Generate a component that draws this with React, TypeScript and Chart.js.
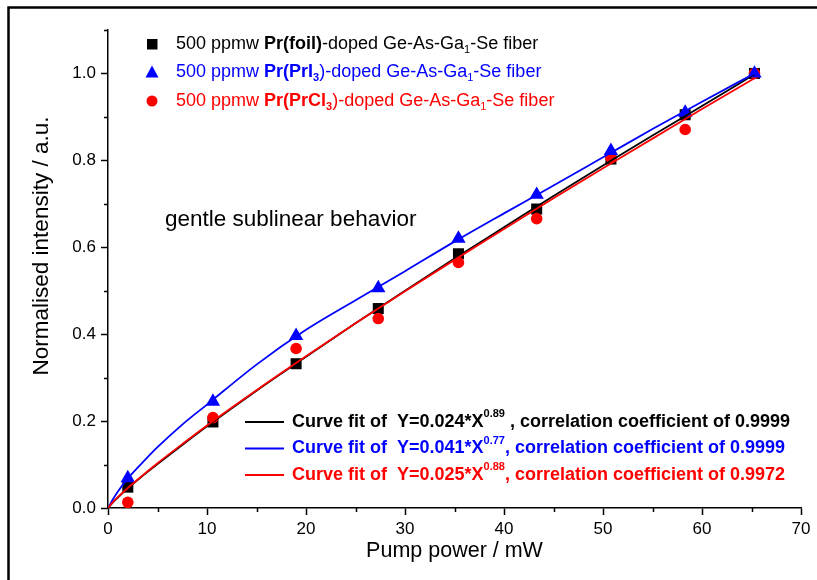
import React, { useEffect, useRef } from 'react';
import { Chart, registerables } from 'chart.js';
Chart.register(...registerables);

// Measured data (pump power in mW, normalised intensity)
const pumpPower = [2.0, 10.6, 19.0, 27.3, 35.4, 43.3, 50.8, 58.3, 65.3];
const foilIntensity = [0.048, 0.198, 0.332, 0.459, 0.585, 0.688, 0.803, 0.905, 1.0];
const priIntensity = [0.069, 0.245, 0.396, 0.506, 0.620, 0.721, 0.822, 0.910, 1.0];
const prclIntensity = [0.013, 0.208, 0.367, 0.436, 0.565, 0.666, 0.806, 0.871, 1.0];

// Fitted curves
const fitPower = [0, 0.5, 1, 2, 3.5, 5, 7.5, 10, 15, 20, 25, 30, 35, 40, 45, 50, 55, 60, 65.3];
const fitFoil = [0, 0.013, 0.024, 0.045, 0.074, 0.101, 0.145, 0.188, 0.27, 0.348, 0.425, 0.5, 0.574, 0.646, 0.718, 0.788, 0.857, 0.925, 0.998];
const fitPri = [0, 0.02, 0.038, 0.068, 0.105, 0.14, 0.192, 0.238, 0.33, 0.41, 0.478, 0.545, 0.613, 0.678, 0.742, 0.807, 0.872, 0.935, 1.0];
const fitPrcl = [0, 0.0136, 0.025, 0.046, 0.075, 0.103, 0.147, 0.19, 0.271, 0.349, 0.425, 0.499, 0.571, 0.642, 0.713, 0.782, 0.85, 0.918, 0.989];

const xTicks = [0, 10, 20, 30, 40, 50, 60, 70];
const yTicks = [0, 0.2, 0.4, 0.6, 0.8, 1.0];
const xMinorTicks = [5, 15, 25, 35, 45, 55, 65];
const yMinorTicks = [0.1, 0.3, 0.5, 0.7, 0.9, 1.1];

const xTitle = 'Pump power / mW';
const yTitle = 'Normalised intensity / a.u.';
const annotation = 'gentle sublinear behavior';

type Seg = { t: string; b?: boolean; sub?: boolean; sup?: boolean };

const sampleLegend: { color: string; style: string; segs: Seg[] }[] = [
  {
    color: '#000000', style: 'rect',
    segs: [{ t: '500 ppmw ' }, { t: 'Pr(foil)', b: true }, { t: '-doped Ge-As-Ga' }, { t: '1', sub: true }, { t: '-Se fiber' }],
  },
  {
    color: '#0000FF', style: 'triangle',
    segs: [{ t: '500 ppmw ' }, { t: 'Pr(PrI', b: true }, { t: '3', b: true, sub: true }, { t: ')-doped Ge-As-Ga' }, { t: '1', sub: true }, { t: '-Se fiber' }],
  },
  {
    color: '#FF0000', style: 'circle',
    segs: [{ t: '500 ppmw ' }, { t: 'Pr(PrCl', b: true }, { t: '3', b: true, sub: true }, { t: ')-doped Ge-As-Ga' }, { t: '1', sub: true }, { t: '-Se fiber' }],
  },
];

const fitLegend: { color: string; segs: Seg[] }[] = [
  { color: '#000000', segs: [{ t: 'Curve fit of  Y=0.024*X' }, { t: '0.89', sup: true }, { t: ' , correlation coefficient of 0.9999' }] },
  { color: '#0000FF', segs: [{ t: 'Curve fit of  Y=0.041*X' }, { t: '0.77', sup: true }, { t: ', correlation coefficient of 0.9999' }] },
  { color: '#FF0000', segs: [{ t: 'Curve fit of  Y=0.025*X' }, { t: '0.88', sup: true }, { t: ', correlation coefficient of 0.9972' }] },
];

const FONT = '"Liberation Sans", Arial, sans-serif';

function drawRich(ctx: CanvasRenderingContext2D, segs: Seg[], x: number, y: number, size: number, color: string, baseBold: boolean) {
  let cx = x;
  ctx.fillStyle = color;
  ctx.textAlign = 'left';
  ctx.textBaseline = 'middle';
  for (const s of segs) {
    const bold = s.b ?? baseBold;
    const small = s.sub || s.sup;
    const fs = small ? Math.round(size * 0.6) : size;
    ctx.font = `${bold ? 'bold ' : ''}${fs}px ${FONT}`;
    const dy = s.sub ? size * 0.32 : s.sup ? -size * 0.42 : 0;
    ctx.fillText(s.t, cx, y + dy);
    cx += ctx.measureText(s.t).width;
  }
}

const overlay = {
  id: 'overlay',
  afterDraw(chart: any) {
    const ctx: CanvasRenderingContext2D = chart.ctx;
    const { chartArea, scales } = chart;
    const xs = scales.x;
    const ys = scales.y;
    ctx.save();
    // minor ticks
    ctx.strokeStyle = '#000';
    ctx.lineWidth = 1.5;
    ctx.beginPath();
    for (const v of xMinorTicks) {
      const px = Math.round(xs.getPixelForValue(v)) + 0.5;
      ctx.moveTo(px, chartArea.bottom);
      ctx.lineTo(px, chartArea.bottom + 4);
    }
    for (const v of yMinorTicks) {
      const py = Math.round(ys.getPixelForValue(v)) + 0.5;
      ctx.moveTo(chartArea.left, py);
      ctx.lineTo(chartArea.left - 4, py);
    }
    ctx.stroke();
    // axis titles
    ctx.fillStyle = '#000';
    ctx.font = `21.5px ${FONT}`;
    ctx.textAlign = 'center';
    ctx.textBaseline = 'middle';
    ctx.fillText(xTitle, (chartArea.left + chartArea.right) / 2, 551);
    ctx.save();
    ctx.translate(42, 246);
    ctx.rotate(-Math.PI / 2);
    ctx.font = `22.5px ${FONT}`;
    ctx.fillText(yTitle, 0, 0);
    ctx.restore();
    // annotation
    ctx.font = `22.5px ${FONT}`;
    ctx.textAlign = 'left';
    ctx.fillText(annotation, 165, 220);
    // sample legend
    sampleLegend.forEach((item, i) => {
      const y = 44 + i * 28.5;
      ctx.fillStyle = item.color;
      ctx.beginPath();
      if (item.style === 'rect') {
        ctx.rect(147, y - 5, 10.5, 10.5);
      } else if (item.style === 'triangle') {
        ctx.moveTo(152, y - 7);
        ctx.lineTo(158.5, y + 5);
        ctx.lineTo(145.5, y + 5);
        ctx.closePath();
      } else {
        ctx.arc(152, y, 5.5, 0, Math.PI * 2);
      }
      ctx.fill();
      drawRich(ctx, item.segs, 176, y, 18, item.color, false);
    });
    // fit legend
    fitLegend.forEach((item, i) => {
      const y = 422 + i * 26.5;
      ctx.strokeStyle = item.color;
      ctx.lineWidth = 2;
      ctx.beginPath();
      ctx.moveTo(245, y);
      ctx.lineTo(284, y);
      ctx.stroke();
      drawRich(ctx, item.segs, 292, y, 18, item.color, true);
    });
    // clean right edge, then frame (left and top only)
    ctx.fillStyle = '#fff';
    ctx.fillRect(813, 9, 4, 571);
    ctx.strokeStyle = '#000';
    ctx.lineWidth = 2.5;
    ctx.beginPath();
    ctx.moveTo(8.5, 580);
    ctx.lineTo(8.5, 7.5);
    ctx.lineTo(817, 7.5);
    ctx.stroke();
    ctx.restore();
  },
};

export default function App() {
  const ref = useRef<HTMLCanvasElement>(null);
  useEffect(() => {
    if (!ref.current) return;
    const pts = (ys: number[]) => pumpPower.map((x, i) => ({ x, y: ys[i] }));
    const fit = (ys: number[]) => fitPower.map((x, i) => ({ x, y: ys[i] }));
    const tickFont = { family: FONT, size: 17 };
    const chart = new Chart(ref.current, {
      type: 'scatter',
      data: {
        datasets: [
          { label: 'foil', data: pts(foilIntensity), pointStyle: 'rect', pointRadius: 7.8, backgroundColor: '#000', borderColor: '#000', borderWidth: 0, order: 5 },
          { label: 'PrCl3', data: pts(prclIntensity), pointStyle: 'circle', pointRadius: 5.8, backgroundColor: '#FF0000', borderColor: '#FF0000', borderWidth: 0, order: 4 },
          { label: 'PrI3', data: pts(priIntensity), pointStyle: 'triangle', pointRadius: 8.3, backgroundColor: '#0000FF', borderColor: '#0000FF', borderWidth: 0, order: 3 },
          { label: 'fit foil', data: fit(fitFoil), showLine: true, pointRadius: 0, borderColor: '#000', borderWidth: 1.8, cubicInterpolationMode: 'monotone', order: 2 },
          { label: 'fit PrI3', data: fit(fitPri), showLine: true, pointRadius: 0, borderColor: '#0000FF', borderWidth: 1.8, cubicInterpolationMode: 'monotone', order: 1 },
          { label: 'fit PrCl3', data: fit(fitPrcl), showLine: true, pointRadius: 0, borderColor: '#FF0000', borderWidth: 1.8, cubicInterpolationMode: 'monotone', order: 0 },
        ] as any,
      },
      options: {
        animation: false,
        responsive: false,
        layout: { padding: { left: 0, top: 30, right: 16, bottom: 0 } },
        plugins: { legend: { display: false }, tooltip: { enabled: false } },
        scales: {
          x: {
            type: 'linear', min: 0, max: 70,
            afterBuildTicks: (s: any) => { s.ticks = xTicks.map((v) => ({ value: v })); },
            afterFit: (s: any) => { s.height = 72; },
            ticks: { font: tickFont, color: '#000', padding: 4, maxRotation: 0, callback: (v: any) => String(v) },
            grid: { drawOnChartArea: false, drawTicks: true, tickLength: 7, tickColor: '#000', tickWidth: 1.5 },
            border: { display: true, color: '#000', width: 1.5 },
          },
          y: {
            type: 'linear', min: 0, max: 1.1,
            afterBuildTicks: (s: any) => { s.ticks = yTicks.map((v) => ({ value: v })); },
            afterFit: (s: any) => { s.width = 108; },
            ticks: { font: tickFont, color: '#000', padding: 5, callback: (v: any) => Number(v).toFixed(1) },
            grid: { drawOnChartArea: false, drawTicks: true, tickLength: 7, tickColor: '#000', tickWidth: 1.5 },
            border: { display: true, color: '#000', width: 1.5 },
          },
        },
      } as any,
      plugins: [overlay],
    });
    return () => chart.destroy();
  }, []);
  return (
    <div style={{ position: 'fixed', left: 0, top: 0, width: 817, height: 580, background: '#fff' }}>
      <canvas ref={ref} width={817} height={580} style={{ display: 'block', width: 817, height: 580 }} />
    </div>
  );
}
